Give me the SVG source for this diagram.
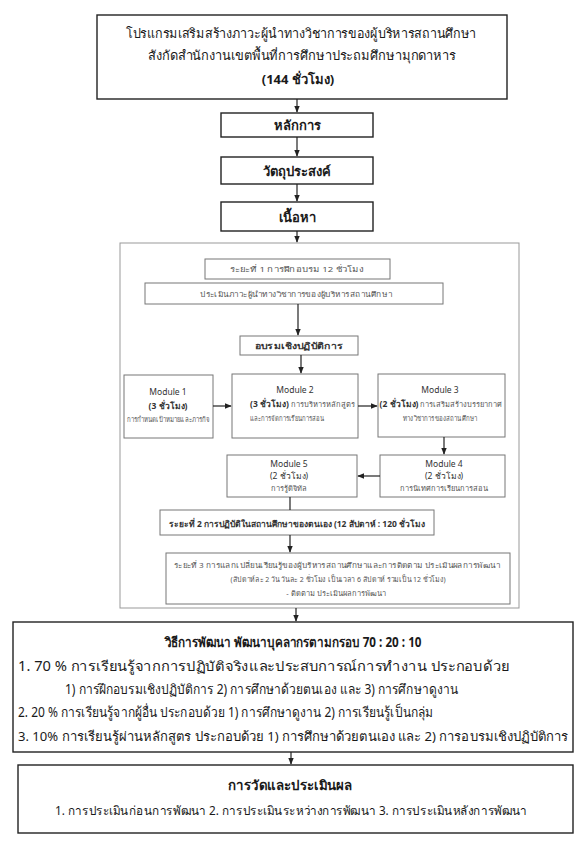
<svg xmlns="http://www.w3.org/2000/svg" width="579" height="863" viewBox="0 0 579 863">
<style>
text{font-family:"Noto Sans","DejaVu Sans",sans-serif;fill:#1a1a1a}
.t{font-size:13.5px}
.b{font-weight:bold}
.box{fill:#fff;stroke:#222;stroke-width:1.4}
.ibox{fill:#fff;stroke:#777;stroke-width:1}
.sm{font-size:7.5px;fill:#555}
.md{font-size:8.5px;fill:#333}
.c{text-anchor:middle}
.ln{stroke:#222;stroke-width:1.2;fill:none}
</style>
<defs>
<marker id="ah" viewBox="0 0 10 10" refX="9" refY="5" markerWidth="6" markerHeight="6" orient="auto"><path d="M0,1 L10,5 L0,9 z" fill="#222"/></marker>
</defs>
<rect width="579" height="863" fill="#fff"/>
<g id="program">
<rect class="box" x="97" y="15" width="410" height="84"/>
<text class="c" x="301" y="38" font-size="13" textLength="350" lengthAdjust="spacingAndGlyphs">โปรแกรมเสริมสร้างภาวะผู้นำทางวิชาการของผู้บริหารสถานศึกษา</text>
<text class="c" x="302" y="60" font-size="13" textLength="308" lengthAdjust="spacingAndGlyphs">สังกัดสำนักงานเขตพื้นที่การศึกษาประถมศึกษามุกดาหาร</text>
<text class="c b" x="298" y="84" font-size="13">(144 ชั่วโมง)</text>
</g>
<g id="principle"><rect class="box" x="221" y="113" width="152" height="24"/><text class="c b" font-size="13" x="297" y="130">หลักการ</text></g>
<g id="objective"><rect class="box" x="221" y="157" width="152" height="27"/><text class="c b" font-size="13" x="297" y="176">วัตถุประสงค์</text></g>
<g id="content"><rect class="box" x="221" y="202" width="152" height="29"/><text class="c b" font-size="13" x="297" y="222">เนื้อหา</text></g>
<g id="container"><rect x="120" y="243" width="399" height="365" fill="none" stroke="#999" stroke-width="1"/></g>
<g id="phase1"><rect class="ibox" x="205" y="259" width="185" height="20"/><text class="sm c" x="297" y="272" textLength="134" lengthAdjust="spacingAndGlyphs">ระยะที่ 1 การฝึกอบรม 12 ชั่วโมง</text></g>
<g id="assess"><rect class="ibox" x="145" y="283" width="298" height="21"/><text class="sm c" x="296" y="297" textLength="192" lengthAdjust="spacingAndGlyphs">ประเมินภาวะผู้นำทางวิชาการของผู้บริหารสถานศึกษา</text></g>
<g id="workshop"><rect class="ibox" x="240" y="336" width="118" height="19"/><text class="md c b" x="299" y="349" textLength="88" lengthAdjust="spacingAndGlyphs">อบรมเชิงปฏิบัติการ</text></g>
<g id="m1"><rect class="ibox" x="124" y="375" width="89" height="63"/>
<text class="md c" x="168" y="395">Module 1</text><text class="md c b" x="168" y="409">(3 ชั่วโมง)</text><text class="sm c" x="168" y="422" textLength="83" lengthAdjust="spacingAndGlyphs">การกำหนดเป้าหมายและภารกิจ</text></g>
<g id="m2"><rect class="ibox" x="232" y="374" width="126" height="64"/>
<text class="md c" x="295" y="393">Module 2</text><text class="md" x="250" y="407"><tspan font-weight="bold">(3 ชั่วโมง)</tspan><tspan class="sm"> การบริหารหลักสูตร</tspan></text><text class="sm" x="250" y="421" textLength="74" lengthAdjust="spacingAndGlyphs">และการจัดการเรียนการสอน</text></g>
<g id="m3"><rect class="ibox" x="378" y="374" width="127" height="63"/>
<text class="md c" x="440" y="393">Module 3</text><text class="md c" x="441" y="407"><tspan font-weight="bold">(2 ชั่วโมง)</tspan><tspan class="sm"> การเสริมสร้างบรรยากาศ</tspan></text><text class="sm c" x="440" y="421" textLength="74" lengthAdjust="spacingAndGlyphs">ทางวิชาการของสถานศึกษา</text></g>
<g id="m4"><rect class="ibox" x="380" y="455" width="125" height="42"/>
<text class="md c" x="444" y="467">Module 4</text><text class="md c" x="444" y="479">(2 ชั่วโมง)</text><text class="sm c" x="444" y="491">การนิเทศการเรียนการสอน</text></g>
<g id="m5"><rect class="ibox" x="227" y="455" width="130" height="42"/>
<text class="md c" x="289" y="467">Module 5</text><text class="md c" x="289" y="479">(2 ชั่วโมง)</text><text class="sm c" x="289" y="491">การรู้ดิจิทัล</text></g>
<g id="phase2"><rect class="ibox" x="160" y="510" width="274" height="25" stroke="#444"/><text class="md c b" x="297" y="527" font-size="10" textLength="256" lengthAdjust="spacingAndGlyphs">ระยะที่ 2 การปฏิบัติในสถานศึกษาของตนเอง (12 สัปดาห์ : 120 ชั่วโมง</text></g>
<g id="phase3"><rect class="ibox" x="166" y="553" width="344" height="51"/>
<text class="sm c" x="337" y="568" textLength="326" lengthAdjust="spacingAndGlyphs">ระยะที่ 3 การแลกเปลี่ยนเรียนรู้ของผู้บริหารสถานศึกษาและการติดตาม ประเมินผลการพัฒนา</text>
<text class="sm c" x="338" y="582" textLength="215" lengthAdjust="spacingAndGlyphs">(สัปดาห์ละ 2 วัน วันละ 2 ชั่วโมง เป็นเวลา 6 สัปดาห์ รวมเป็น 12 ชั่วโมง)</text>
<text class="sm c" x="336" y="596">- ติดตาม ประเมินผลการพัฒนา</text></g>
<g id="method"><rect class="box" x="13" y="622" width="560" height="130"/>
<text class="t c b" x="293" y="647" textLength="257" lengthAdjust="spacingAndGlyphs">วิธีการพัฒนา พัฒนาบุคลากรตามกรอบ 70 : 20 : 10</text>
<text class="t" x="18" y="671" textLength="492" lengthAdjust="spacingAndGlyphs">1. 70 % การเรียนรู้จากการปฏิบัติจริงและประสบการณ์การทำงาน ประกอบด้วย</text>
<text class="t" x="65" y="694" textLength="393" lengthAdjust="spacingAndGlyphs">1) การฝึกอบรมเชิงปฏิบัติการ 2) การศึกษาด้วยตนเอง และ 3) การศึกษาดูงาน</text>
<text class="t" x="18" y="717" textLength="415" lengthAdjust="spacingAndGlyphs">2. 20 % การเรียนรู้จากผู้อื่น ประกอบด้วย 1) การศึกษาดูงาน 2) การเรียนรู้เป็นกลุ่ม</text>
<text x="18" y="741" font-size="13" textLength="550" lengthAdjust="spacingAndGlyphs">3. 10% การเรียนรู้ผ่านหลักสูตร ประกอบด้วย 1) การศึกษาด้วยตนเอง และ 2) การอบรมเชิงปฏิบัติการ</text></g>
<g id="evaluation"><rect class="box" x="18" y="765" width="555" height="68"/>
<text class="t c b" x="290" y="790" textLength="124" lengthAdjust="spacingAndGlyphs">การวัดและประเมินผล</text>
<text class="c" x="291" y="815" font-size="12.5" textLength="472" lengthAdjust="spacingAndGlyphs">1. การประเมินก่อนการพัฒนา 2. การประเมินระหว่างการพัฒนา 3. การประเมินหลังการพัฒนา</text></g>
<g id="connectors">
<path class="ln" d="M297,99 V112" marker-end="url(#ah)"/>
<path class="ln" d="M297,137 V156" marker-end="url(#ah)"/>
<path class="ln" d="M297,184 V201" marker-end="url(#ah)"/>
<path class="ln" d="M297,231 V242" marker-end="url(#ah)"/>
<path class="ln" d="M298,304 V335" marker-end="url(#ah)"/>
<path class="ln" d="M301,355 V373" marker-end="url(#ah)"/>
<path class="ln" d="M213,406 H231" marker-end="url(#ah)"/>
<path class="ln" d="M358,406 H377" marker-end="url(#ah)"/>
<path class="ln" d="M444,437 V454" marker-end="url(#ah)"/>
<path class="ln" d="M380,476 H358" marker-end="url(#ah)"/>
<path class="ln" d="M290,497 V510"/>
<path class="ln" d="M290,535 V552" marker-end="url(#ah)"/>
<path class="ln" d="M296,608 V621" marker-end="url(#ah)"/>
<path class="ln" d="M291,752 V764" marker-end="url(#ah)"/>
</g>
</svg>
